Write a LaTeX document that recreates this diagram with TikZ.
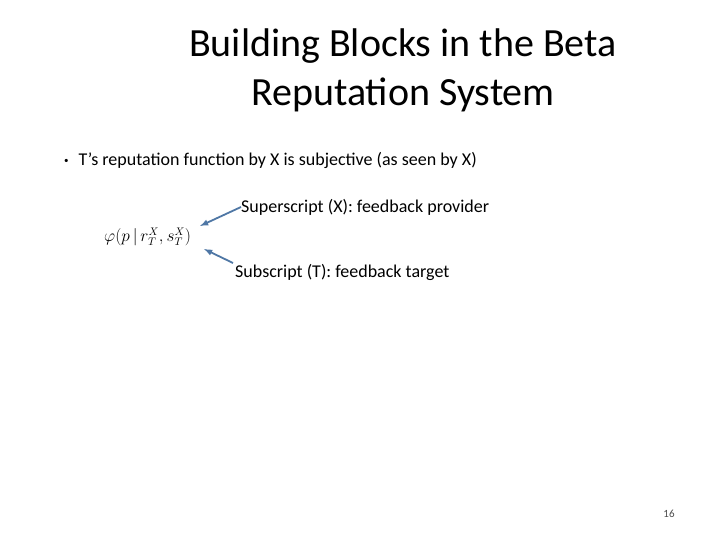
\documentclass[tikz,border=0pt]{standalone}
\usepackage{amsmath}
\usepackage{fontspec}
\setmainfont{Carlito}
\definecolor{arrowblue}{RGB}{79,119,165}
\begin{document}
\begin{tikzpicture}[x=1pt,y=-1pt,
  every node/.style={inner sep=0pt},
  pointer/.style={draw=arrowblue,line width=1.8pt,-latex}]
\useasboundingbox (0,0) rectangle (720,540);

\node[align=center,font=\fontsize{40}{49}\selectfont] (title) at (403,70) {Building Blocks in the Beta\\Reputation System};

\node[anchor=west,font=\fontsize{18}{22}\selectfont] (bullet) at (64,160) {\raisebox{2pt}{\small\textbullet}\hspace{10pt}T’s reputation function by X is subjective (as seen by X)};

\node[anchor=west,font=\fontsize{16}{20}\selectfont] (formula) at (104,237) {$\varphi(p\,|\,r_T^X,s_T^X)$};

\node[anchor=west,font=\fontsize{18}{20}\selectfont] (sup) at (241,207) {Superscript (X): feedback provider};
\node[anchor=west,font=\fontsize{18}{20}\selectfont] (sub) at (235,272) {Subscript (T): feedback target};

\coordinate (suptip) at (200,226);
\coordinate (subtip) at (204,249);
\coordinate (subtail) at (233,263);
\draw[pointer] (sup.west) -- (suptip);
\draw[pointer] (subtail) -- (subtip);

\node[font=\fontsize{11}{12}\selectfont,text=black!70] (page) at (669,514) {16};
\end{tikzpicture}
\end{document}
